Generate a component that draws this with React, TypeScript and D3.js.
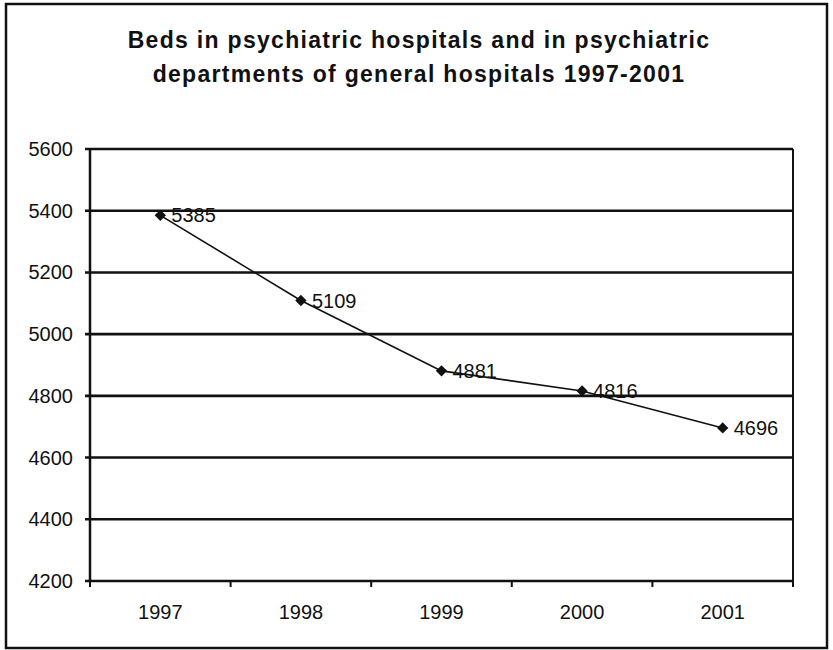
import React from "react";
import * as d3 from "d3";

const years = ["1997", "1998", "1999", "2000", "2001"];
const beds = [5385, 5109, 4881, 4816, 4696];
const yTicks = [4200, 4400, 4600, 4800, 5000, 5200, 5400, 5600];
const titleLines = [
  "Beds in psychiatric hospitals and in psychiatric",
  "departments of general hospitals 1997-2001",
];

const W = 833;
const H = 650;
const plot = { left: 90, right: 793, top: 149, bottom: 581 };
const font = "'Liberation Sans', Arial, sans-serif";

export default function App() {
  const x = d3.scaleBand<string>().domain(years).range([plot.left, plot.right]);
  const y = d3.scaleLinear().domain([4200, 5600]).range([plot.bottom, plot.top]);
  const cx = (yr: string) => (x(yr) ?? 0) + x.bandwidth() / 2;
  const line = d3
    .line<number>()
    .x((_, i) => cx(years[i]))
    .y((v) => y(v));
  const marker = d3.symbol(d3.symbolSquare, 64)() ?? "";
  const boundaries = [...years.map((yr) => x(yr) ?? 0), plot.right];

  return (
    <svg
      width={W}
      height={H}
      style={{ position: "absolute", left: 0, top: 0, background: "#fff" }}
      fontFamily={font}
    >
      <rect x={0} y={0} width={W} height={H} fill="#fff" />
      <rect x={6} y={4} width={821} height={644} fill="none" stroke="#111" strokeWidth={2.5} />
      {titleLines.map((t, i) => (
        <text
          key={i}
          x={419}
          y={48 + i * 34}
          textAnchor="middle"
          fontSize={23}
          fontWeight="bold"
          letterSpacing={1.3}
          fill="#111"
        >
          {t}
        </text>
      ))}
      {yTicks.map((t) => (
        <g key={t}>
          <line x1={plot.left - 5} x2={plot.right} y1={y(t)} y2={y(t)} stroke="#111" strokeWidth={2.6} />
          <text x={73} y={y(t)} dy="0.35em" textAnchor="end" fontSize={20} fill="#111">
            {t}
          </text>
        </g>
      ))}
      <line x1={plot.left} x2={plot.left} y1={plot.top} y2={plot.bottom} stroke="#111" strokeWidth={2.5} />
      <line x1={plot.right} x2={plot.right} y1={plot.top} y2={plot.bottom} stroke="#111" strokeWidth={2} />
      {boundaries.map((b, i) => (
        <line key={i} x1={b} x2={b} y1={plot.bottom} y2={plot.bottom + 6} stroke="#111" strokeWidth={2} />
      ))}
      {years.map((yr) => (
        <text key={yr} x={cx(yr)} y={619} textAnchor="middle" fontSize={20} fill="#111">
          {yr}
        </text>
      ))}
      <path d={line(beds) ?? ""} fill="none" stroke="#111" strokeWidth={1.6} />
      {beds.map((v, i) => (
        <g key={i}>
          <path d={marker} transform={`translate(${cx(years[i])},${y(v)}) rotate(45)`} fill="#111" />
          <text x={cx(years[i]) + 11} y={y(v)} dy="0.35em" fontSize={20} fill="#111">
            {v}
          </text>
        </g>
      ))}
    </svg>
  );
}
